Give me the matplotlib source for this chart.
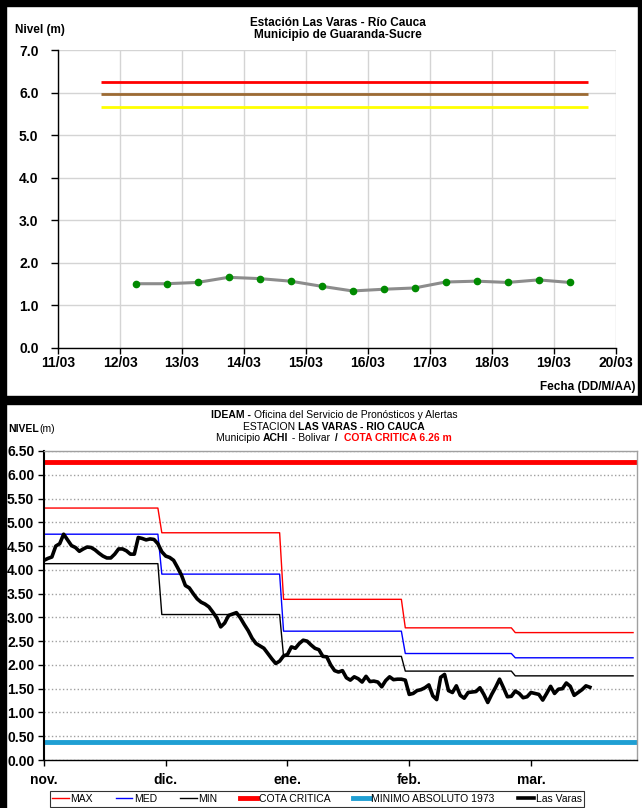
import numpy as np
import matplotlib
matplotlib.use('Agg')
import matplotlib.pyplot as plt
from matplotlib.lines import Line2D
from matplotlib.patches import Rectangle

# ---------------- data: top chart (Mar, day-of-month) ----------------
obs_day = [12.25, 12.75, 13.25, 13.75, 14.25, 14.75, 15.25, 15.75,
           16.25, 16.75, 17.25, 17.75, 18.25, 18.75, 19.25]
obs_level = [1.51, 1.51, 1.54, 1.66, 1.63, 1.57, 1.45, 1.34,
             1.38, 1.41, 1.55, 1.57, 1.54, 1.60, 1.54]
thr_start, thr_end = 11.7, 19.55
thr_red, thr_brown, thr_yellow = 6.26, 5.96, 5.66
top_days = list(range(11, 21))

# ---------------- data: bottom chart (days since 1 nov.) ----------------
month_labels = ['nov.', 'dic.', 'ene.', 'feb.', 'mar.']
month_ticks = [0, 31, 62, 93, 124]
month_start = [0, 30, 61, 92, 120]
month_end = [29, 60, 91, 119, 150]
max_vals = [5.30, 4.78, 3.38, 2.78, 2.68]
med_vals = [4.75, 3.91, 2.71, 2.24, 2.15]
min_vals = [4.13, 3.06, 2.18, 1.87, 1.77]
cota_critica = 6.26
minimo_1973 = 0.38
las_varas = [
    4.20, 4.24, 4.27, 4.50, 4.55, 4.75, 4.63, 4.51, 4.47, 4.39,
    4.44, 4.48, 4.47, 4.42, 4.35, 4.29, 4.25, 4.25, 4.33, 4.44,
    4.44, 4.40, 4.33, 4.33, 4.68, 4.66, 4.63, 4.65, 4.64, 4.55,
    4.38, 4.29, 4.26, 4.20, 4.05, 3.89, 3.67, 3.62, 3.50, 3.39,
    3.32, 3.28, 3.22, 3.11, 2.99, 2.80, 2.88, 3.04, 3.07, 3.10,
    2.99, 2.85, 2.72, 2.56, 2.45, 2.40, 2.35, 2.24, 2.13, 2.03,
    2.08, 2.19, 2.22, 2.38, 2.35, 2.45, 2.52, 2.50, 2.42, 2.35,
    2.32, 2.18, 2.17, 2.00, 1.88, 1.85, 1.88, 1.73, 1.68, 1.75,
    1.71, 1.64, 1.76, 1.65, 1.66, 1.64, 1.54, 1.67, 1.75, 1.69,
    1.70, 1.70, 1.68, 1.38, 1.40, 1.46, 1.48, 1.52, 1.58, 1.35,
    1.27, 1.74, 1.80, 1.46, 1.42, 1.56, 1.36, 1.30, 1.42, 1.43,
    1.44, 1.52, 1.38, 1.21, 1.38, 1.53, 1.70, 1.52, 1.33, 1.34,
    1.45, 1.40, 1.31, 1.33, 1.42, 1.40, 1.38, 1.26, 1.40, 1.55,
    1.40, 1.49, 1.50, 1.62, 1.55, 1.36, 1.42, 1.48, 1.56, 1.53,
]

W, H = 642, 808
fig = plt.figure(figsize=(W / 100, H / 100), dpi=100, facecolor='white')
plt.rcParams['font.family'] = ['Liberation Sans', 'DejaVu Sans']
NARROW = ['Liberation Sans Narrow', 'Liberation Sans']


def fx(px):
    return px / W


def fy(py):
    return 1 - py / H


def rich_line(xc, yc, parts, size, family):
    # one title line made of differently styled pieces, centred at xc (pixels)
    r = fig.canvas.get_renderer()
    objs, widths = [], []
    for s, w, c in parts:
        t = fig.text(0, fy(yc), s, fontsize=size, fontweight=w, color=c,
                     family=family, va='center', ha='left')
        objs.append(t)
        widths.append(t.get_window_extent(renderer=r).width)
    x = xc - sum(widths) / 2
    for t, wd in zip(objs, widths):
        t.set_x(fx(x))
        x += wd


# ================= top chart =================
ax1 = fig.add_axes([fx(58), fy(348), fx(616) - fx(58), (348 - 50) / H])
ax1.set_xlim(11, 20)
ax1.set_ylim(0, 7)
ax1.set_xticks(top_days)
ax1.set_xticklabels([f'{d}/03' for d in top_days])
ax1.set_yticks(range(0, 8))
ax1.set_yticklabels([f'{v:.1f}' for v in range(0, 8)])
ax1.grid(True, color='#d4d4d4', lw=1)
ax1.set_axisbelow(True)
for s in ['top', 'right']:
    ax1.spines[s].set_visible(False)
for s in ['left', 'bottom']:
    ax1.spines[s].set_color('black')
    ax1.spines[s].set_linewidth(1)
ax1.tick_params(axis='y', direction='out', length=5, width=1, labelsize=10, pad=9)
ax1.tick_params(axis='x', direction='out', length=4, width=1, labelsize=10, pad=2)
for lbl in ax1.get_xticklabels() + ax1.get_yticklabels():
    lbl.set_fontweight('bold')

ax1.hlines(thr_red, thr_start, thr_end, color='#FF0000', lw=2)
ax1.hlines(thr_brown, thr_start, thr_end, color='#9C6A33', lw=2)
ax1.hlines(thr_yellow, thr_start, thr_end, color='#FFFF00', lw=2)
ax1.plot(obs_day, obs_level, color='#8C8C8C', lw=2.2, zorder=3)
ax1.plot(obs_day, obs_level, ls='none', marker='o', ms=4.5,
         color='#008A00', zorder=4)

fig.text(fx(15), fy(30), 'Nivel (m)', fontsize=8.5, fontweight='bold', va='center')
fig.text(fx(338), fy(23), 'Estación Las Varas - Río Cauca', fontsize=8.5,
         fontweight='bold', ha='center', va='center')
fig.text(fx(338), fy(35), 'Municipio de Guaranda-Sucre', fontsize=8.5,
         fontweight='bold', ha='center', va='center')
fig.text(fx(636), fy(387), 'Fecha (DD/M/AA)', fontsize=8.5, fontweight='bold',
         ha='right', va='center')

# ================= bottom chart =================
ax2 = fig.add_axes([fx(44), fy(760), fx(637) - fx(44), (760 - 451) / H])
ax2.set_xlim(0, 151)
ax2.set_ylim(0, 6.5)
yt = np.arange(0, 6.51, 0.5)
ax2.set_yticks(yt)
ax2.set_yticklabels([f'{v:.2f}' for v in yt])
ax2.set_xticks(month_ticks)
ax2.set_xticklabels(month_labels)
ax2.grid(True, axis='y', color='#a0a0a0', ls=':', lw=1)
ax2.set_axisbelow(True)
ax2.spines['left'].set_linewidth(1.5)
ax2.spines['bottom'].set_linewidth(1)
for s in ['top', 'right']:
    ax2.spines[s].set_color('#a0a0a0')
    ax2.spines[s].set_linewidth(1)
ax2.tick_params(axis='y', direction='out', length=4, width=1, labelsize=10, pad=3)
ax2.tick_params(axis='x', direction='out', length=4, width=1, labelsize=10, pad=5)
for lbl in ax2.get_xticklabels() + ax2.get_yticklabels():
    lbl.set_fontweight('bold')


def steps(vals):
    xs, ys = [], []
    for a, b, v in zip(month_start, month_end, vals):
        xs += [a, b]
        ys += [v, v]
    return xs, ys


ax2.plot(*steps(max_vals), color='#FF0000', lw=1)
ax2.plot(*steps(med_vals), color='#0000FF', lw=1)
ax2.plot(*steps(min_vals), color='black', lw=1)
ax2.axhline(cota_critica, color='#FF0000', lw=3.5)
ax2.axhline(minimo_1973, color='#1F9FD3', lw=3.5)
ax2.plot(np.arange(len(las_varas)), las_varas, color='black', lw=2.6,
         solid_joinstyle='round', zorder=5)

fig.text(fx(8), fy(429), 'NIVEL', fontsize=7.5, fontweight='bold', va='center',
         family=NARROW)
fig.text(fx(39), fy(429), '(m)', fontsize=7.5, va='center', family=NARROW)
rich_line(334, 415, [('IDEAM - ', 'bold', 'black'),
                     ('Oficina del Servicio de Pronósticos y Alertas', 'normal', 'black')],
          7.5, NARROW)
rich_line(334, 426.5, [('ESTACION ', 'normal', 'black'),
                       ('LAS VARAS - RIO CAUCA', 'bold', 'black')], 7.5, NARROW)
rich_line(334, 438, [('Municipio ', 'normal', 'black'), ('ACHI', 'bold', 'black'),
                     (' - Bolivar ', 'normal', 'black'), (' /  ', 'bold', 'black'),
                     ('COTA CRITICA 6.26 m', 'bold', '#FF0000')], 7.5, NARROW)

handles = [Line2D([], [], color='#FF0000', lw=1),
           Line2D([], [], color='#0000FF', lw=1),
           Line2D([], [], color='black', lw=1),
           Line2D([], [], color='#FF0000', lw=3.5),
           Line2D([], [], color='#1F9FD3', lw=3.5),
           Line2D([], [], color='black', lw=2.6)]
labels = ['MAX', 'MED', 'MIN', 'COTA CRITICA', 'MINIMO ABSOLUTO 1973', 'Las Varas']
leg = fig.legend(handles, labels, loc='center', bbox_to_anchor=(fx(317), fy(799)),
                 ncol=6, frameon=True, fancybox=False, edgecolor='black',
                 prop={'family': NARROW, 'size': 7.5}, handlelength=1.6,
                 handletextpad=0.15, columnspacing=2.2, borderpad=0.25)
leg.get_frame().set_linewidth(0.8)

# ================= panel borders =================
for x0, y0, w, h in [(0, 0, 642, 6), (0, 0, 6, 808), (0, 396, 642, 8), (638, 0, 4, 400)]:
    fig.patches.append(Rectangle((fx(x0), fy(y0 + h)), w / W, h / H, color='black',
                                 transform=fig.transFigure, zorder=10))

fig.savefig('out.png', dpi=100, facecolor='white')
